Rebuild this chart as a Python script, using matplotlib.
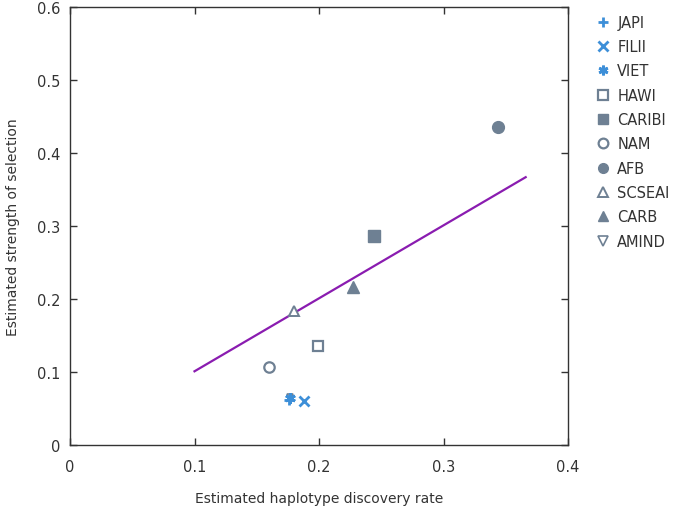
import numpy as np
import matplotlib
matplotlib.use('Agg')
import matplotlib.pyplot as plt

# ── Data ──────────────────────────────────────────────────
groups = ["JAPI", "FILII", "VIET", "HAWI", "CARIBI", "NAM", "AFB", "SCSEAI", "CARB", "AMIND"]
disc_rate = [0.176, 0.188, 0.177, 0.199, 0.244, 0.160, 0.344, 0.180, 0.227, 0.177]
selection = [0.062, 0.060, 0.065, 0.136, 0.286, 0.107, 0.436, 0.184, 0.216, 0.066]

fit_x = [0.100, 0.366]
fit_y = [0.101, 0.367]

xticks = [0, 0.1, 0.2, 0.3, 0.4]
yticks = [0, 0.1, 0.2, 0.3, 0.4, 0.5, 0.6]

# ── Styles ────────────────────────────────────────────────
BLUE = '#3d8fd8'
GREY = '#6e8093'
PURPLE = '#8a1cb0'
styles = {
    "JAPI":   dict(marker='+', color=BLUE, mfc=BLUE, ms=7, mew=2, z=4),
    "FILII":  dict(marker='x', color=BLUE, mfc=BLUE, ms=6.5, mew=2, z=4),
    "VIET":   dict(marker=(6, 2, 0), color=BLUE, mfc=BLUE, ms=7.5, mew=2, z=4),
    "HAWI":   dict(marker='s', color=GREY, mfc='white', ms=7, mew=1.6, z=3),
    "CARIBI": dict(marker='s', color=GREY, mfc=GREY, ms=8, mew=1, z=3),
    "NAM":    dict(marker='o', color=GREY, mfc='white', ms=7.5, mew=1.6, z=3),
    "AFB":    dict(marker='o', color=GREY, mfc=GREY, ms=8.5, mew=1, z=3),
    "SCSEAI": dict(marker='^', color=GREY, mfc='white', ms=7.5, mew=1.4, z=3),
    "CARB":   dict(marker='^', color=GREY, mfc=GREY, ms=8.5, mew=1, z=3),
    "AMIND":  dict(marker='v', color=GREY, mfc='white', ms=5, mew=1.2, z=2),
}

plt.rcParams['font.family'] = ['DejaVu Sans']

fig = plt.figure(figsize=(6.77, 5.10), dpi=100)
ax = fig.add_axes([0.1034, 0.1255, 0.7356, 0.8585])

ax.plot(fit_x, fit_y, color=PURPLE, lw=1.6, zorder=2)

handles = []
for g, x, y in zip(groups, disc_rate, selection):
    st = styles[g]
    h, = ax.plot([x], [y], linestyle='none', marker=st['marker'], color=st['color'],
                 markerfacecolor=st['mfc'], markeredgecolor=st['color'],
                 markersize=st['ms'], markeredgewidth=st['mew'], label=g, zorder=st['z'])
    handles.append(h)

ax.set_xlim(0, 0.4)
ax.set_ylim(0, 0.6)
ax.set_xticks(xticks)
ax.set_yticks(yticks)
ax.set_xticklabels(['0', '0.1', '0.2', '0.3', '0.4'])
ax.set_yticklabels(['0', '0.1', '0.2', '0.3', '0.4', '0.5', '0.6'])

ax.tick_params(axis='both', direction='in', length=5, width=1, colors='#333333',
               labelcolor='#333333', labelsize=10.5, top=True, right=True)
ax.tick_params(axis='x', pad=10)
ax.tick_params(axis='y', pad=7)
for sp in ax.spines.values():
    sp.set_color('#333333')
    sp.set_linewidth(1)

ax.set_xlabel('Estimated haplotype discovery rate', fontsize=10, color='#333333', labelpad=12)
ax.set_ylabel('Estimated strength of selection', fontsize=10, color='#333333', labelpad=12)

# legend shows every marker at a common size
leg = fig.legend(handles=handles, loc='upper left', bbox_to_anchor=(0.860, 0.995),
                 frameon=False, fontsize=10.5, handlelength=1.0, handletextpad=0.5,
                 labelspacing=0.64, labelcolor='#333333', markerscale=1.0)
for lh in leg.legend_handles:
    lh.set_markersize(7)

fig.savefig('out.png', dpi=100, facecolor='white')
